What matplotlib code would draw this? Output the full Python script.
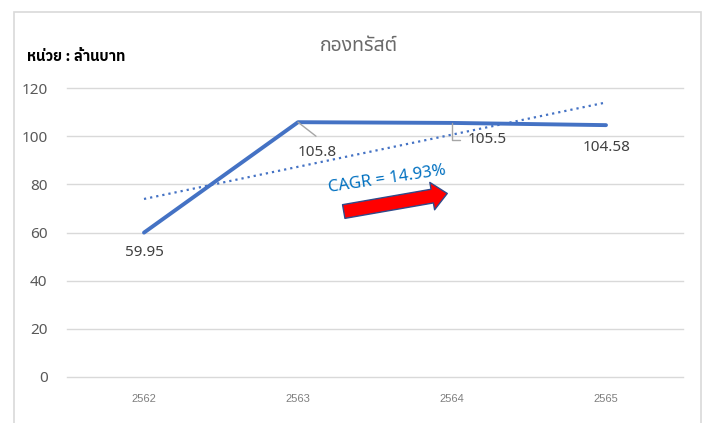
import numpy as np
import matplotlib
matplotlib.use("Agg")
import matplotlib.pyplot as plt
from matplotlib.patches import FancyArrowPatch, Rectangle

# ข้อมูล
years = ["2562", "2563", "2564", "2565"]
values = [59.95, 105.8, 105.5, 104.58]
value_labels = ["59.95", "105.8", "105.5", "104.58"]
yticks = [0, 20, 40, 60, 80, 100, 120]

title = "กองทรัสต์"
unit_text = "หน่วย : ล้านบาท"
cagr_text = "CAGR = 14.93%"

FONT = ["Noto Sans", "Noto Sans Thai", "DejaVu Sans"]
plt.rcParams["font.family"] = FONT

W, H = 714, 423
fig = plt.figure(figsize=(W / 100, H / 100), dpi=100)

def fx(px):
    return px / W

def fy(py):
    return 1 - py / H

# กรอบรอบรูป
fig.patches.append(Rectangle((fx(14), fy(440)), fx(701 - 14), (440 - 12) / H,
                             transform=fig.transFigure, fill=False,
                             edgecolor="#D9D9D9", lw=1.2))

ax = fig.add_axes([fx(67), fy(377), fx(683 - 67), (377 - 88) / H])
x = np.arange(len(years))

ax.set_xlim(-0.5, len(years) - 0.5)
ax.set_ylim(0, 120)
ax.set_yticks(yticks)
ax.set_xticks(x)
ax.set_xticklabels(years, fontsize=8, color="#7F7F7F",
                   family=["Liberation Sans Narrow", "Liberation Sans"])
ax.tick_params(axis="y", labelsize=11, labelcolor="#595959", length=0, pad=14)
ax.tick_params(axis="x", length=0, pad=12)
ax.grid(axis="y", color="#D9D9D9", lw=1)
for gl in ax.get_ygridlines():
    gl.set_clip_on(False)
ax.set_axisbelow(True)
for s in ax.spines.values():
    s.set_visible(False)

# เส้นแนวโน้ม (linear)
coef = np.polyfit(x, values, 1)
ax.plot(x, np.polyval(coef, x), color="#4472C4", lw=1.6, ls=(0, (1, 1.8)))

# เส้นข้อมูล
ax.plot(x, values, color="#4472C4", lw=2.8, solid_capstyle="round")

# ป้ายข้อมูล
lead = dict(arrowstyle="-", color="#A6A6A6", lw=1, shrinkA=0, shrinkB=0)
ax.annotate(value_labels[0], (x[0], values[0]), xytext=(0, -20),
            textcoords="offset pixels", ha="center", va="center",
            fontsize=11, color="#404040")
ax.annotate("", (x[1], values[1]), xytext=(18, -14),
            textcoords="offset pixels", arrowprops=lead)
ax.annotate(value_labels[1], (x[1], values[1]), xytext=(19, -30),
            textcoords="offset pixels", ha="center", va="center",
            fontsize=11, color="#404040")
ax.annotate("", (x[2], values[2]), xytext=(8, -17),
            textcoords="offset pixels",
            arrowprops=dict(lead, connectionstyle="angle,angleA=0,angleB=90,rad=0"))
ax.annotate(value_labels[2], (x[2], values[2]), xytext=(35, -17),
            textcoords="offset pixels", ha="center", va="center",
            fontsize=11, color="#404040")
ax.annotate(value_labels[3], (x[3], values[3]), xytext=(1, -22),
            textcoords="offset pixels", ha="center", va="center",
            fontsize=11, color="#404040")

# ชื่อกราฟ และหน่วย
fig.text(fx(359), fy(46), title, ha="center", va="center", fontsize=14,
         color="#6A6A6A")
fig.text(fx(27), fy(57), unit_text, ha="left", va="center", fontsize=10.5,
         fontweight="bold", color="#000000",
         family=["IBM Plex Sans Thai", "Noto Sans"])

# CAGR
fig.text(fx(387), fy(179), cagr_text, ha="center", va="center", fontsize=12,
         color="#0070C0", rotation=8.5)
arrow = FancyArrowPatch((fx(341), fy(212)), (fx(450), fy(193)),
                        transform=fig.transFigure,
                        arrowstyle="simple,head_length=1.1,head_width=2.0,tail_width=1.0",
                        mutation_scale=10, fc="#FF0000", ec="#2F4A8A", lw=1)
fig.patches.append(arrow)

fig.savefig("out.png", dpi=100)
